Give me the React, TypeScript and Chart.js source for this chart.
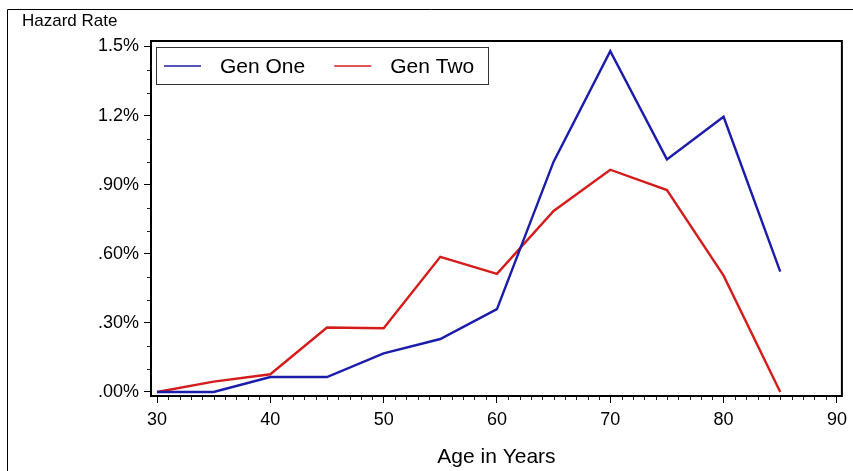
import React, { useEffect, useRef } from "react";
import { Chart, registerables } from "chart.js";

Chart.register(...registerables);

// ---- data ----
const ages = [30, 35, 40, 45, 50, 55, 60, 65, 70, 75, 80, 85];
const genOne = [0.0, 0.0, 0.065, 0.065, 0.168, 0.23, 0.36, 1.0, 1.48, 1.01, 1.195, 0.523];
const genTwo = [0.0, 0.045, 0.077, 0.28, 0.277, 0.587, 0.513, 0.786, 0.965, 0.877, 0.505, 0.0];
const seriesNames = ["Gen One", "Gen Two"];
const seriesColors = ["#1c1caa", "#d41c1c"];

const yMajorTicks = [0, 0.3, 0.6, 0.9, 1.2, 1.5];
const yTickLabels = [".00%", ".30%", ".60%", ".90%", "1.2%", "1.5%"];
const yMinorTicks = [0.1, 0.2, 0.4, 0.5, 0.7, 0.8, 1.0, 1.1, 1.3, 1.4];
const xMajorTicks = [30, 40, 50, 60, 70, 80, 90];
const xMinorTicks = [31, 32, 33, 34, 35, 36, 37, 38, 39, 41, 42, 43, 44, 45, 46, 47, 48, 49, 51, 52, 53, 54, 55, 56, 57, 58, 59, 61, 62, 63, 64, 65, 66, 67, 68, 69, 71, 72, 73, 74, 75, 76, 77, 78, 79, 81, 82, 83, 84, 85, 86, 87, 88, 89];

const yTitle = "Hazard Rate";
const xTitle = "Age in Years";

const FONT = "'Liberation Sans', Arial, Helvetica, sans-serif";

const decorPlugin = {
  id: "decor",
  beforeDraw(chart: any) {
    const { ctx, width, height } = chart;
    ctx.save();
    ctx.fillStyle = "#fff";
    ctx.fillRect(0, 0, width, height);
    ctx.restore();
  },
  afterDraw(chart: any) {
    const { ctx, chartArea: a, scales } = chart;
    const x = scales.x;
    const y = scales.y;
    ctx.save();
    // outer border
    ctx.strokeStyle = "#000";
    ctx.lineWidth = 1;
    ctx.beginPath();
    ctx.moveTo(7.5, chart.height);
    ctx.lineTo(7.5, 9.5);
    ctx.lineTo(chart.width, 9.5);
    ctx.stroke();

    // minor ticks
    ctx.strokeStyle = "#222";
    ctx.lineWidth = 1;
    ctx.beginPath();
    for (const v of yMinorTicks) {
      const py = Math.round(y.getPixelForValue(v)) + 0.5;
      ctx.moveTo(a.left - 4, py);
      ctx.lineTo(a.left, py);
    }
    for (const v of xMinorTicks) {
      const px = Math.round(x.getPixelForValue(v)) + 0.5;
      ctx.moveTo(px, a.bottom);
      ctx.lineTo(px, a.bottom + 4);
    }
    ctx.stroke();

    // frame
    ctx.strokeStyle = "#000";
    ctx.lineWidth = 2;
    ctx.strokeRect(a.left, a.top, a.right - a.left, a.bottom - a.top);

    // y title
    ctx.fillStyle = "#000";
    ctx.font = `17px ${FONT}`;
    ctx.textAlign = "left";
    ctx.textBaseline = "middle";
    ctx.fillText(yTitle, 22, 21);

    // legend
    const bx = a.left + 5;
    const by = a.top + 6;
    const bw = 332;
    const bh = 37;
    ctx.fillStyle = "#fff";
    ctx.fillRect(bx, by, bw, bh);
    ctx.strokeStyle = "#333";
    ctx.lineWidth = 1;
    ctx.strokeRect(bx + 0.5, by + 0.5, bw, bh);
    const cy = by + bh / 2 + 0.5;
    ctx.font = `21px ${FONT}`;
    let cx = bx + 8;
    chart.data.datasets.forEach((ds: any) => {
      ctx.strokeStyle = ds.borderColor;
      ctx.lineWidth = 1.5;
      ctx.beginPath();
      ctx.moveTo(cx, cy);
      ctx.lineTo(cx + 37, cy);
      ctx.stroke();
      cx += 37 + 19;
      ctx.fillStyle = "#000";
      ctx.fillText(ds.label, cx, cy + 1);
      cx += ctx.measureText(ds.label).width + 29;
    });
    ctx.restore();
  },
};

export default function App() {
  const ref = useRef<HTMLCanvasElement | null>(null);
  useEffect(() => {
    if (!ref.current) return;
    const datasets = [genOne, genTwo].map((vals, i) => ({
      label: seriesNames[i],
      data: ages.map((a, j) => ({ x: a, y: vals[j] })),
      borderColor: seriesColors[i],
      backgroundColor: seriesColors[i],
      borderWidth: 2.4,
      pointRadius: 0,
      tension: 0,
      fill: false,
    }));
    const chart = new Chart(ref.current, {
      type: "line",
      data: { datasets },
      plugins: [decorPlugin],
      options: {
        animation: false,
        responsive: false,
        events: [],
        layout: { padding: { top: 41, right: 11, left: 0, bottom: 0 } },
        plugins: { legend: { display: false }, tooltip: { enabled: false } },
        scales: {
          x: {
            type: "linear",
            min: 29.47,
            max: 90.44,
            afterBuildTicks: (s: any) => {
              s.ticks = xMajorTicks.map((v) => ({ value: v }));
            },
            afterFit: (s: any) => {
              s.height = 75;
            },
            ticks: {
              color: "#000",
              font: { family: FONT, size: 18 },
              padding: 6,
              maxRotation: 0,
              autoSkip: false,
              callback: (v: any) => String(v),
            },
            grid: {
              display: true,
              drawOnChartArea: false,
              drawTicks: true,
              tickLength: 7,
              tickColor: "#000",
              color: "#000",
            },
            border: { display: false },
            title: {
              display: true,
              text: xTitle,
              color: "#000",
              font: { family: FONT, size: 21 },
              padding: { top: 0, bottom: 1 },
            },
          },
          y: {
            type: "linear",
            min: -0.0174,
            max: 1.524,
            afterBuildTicks: (s: any) => {
              s.ticks = yMajorTicks.map((v) => ({ value: v }));
            },
            afterFit: (s: any) => {
              s.width = 151;
            },
            ticks: {
              color: "#000",
              font: { family: FONT, size: 18 },
              padding: 5,
              autoSkip: false,
              callback: (v: any) => {
                const idx = yMajorTicks.findIndex((t) => Math.abs(t - v) < 1e-6);
                return idx >= 0 ? yTickLabels[idx] : "";
              },
            },
            grid: {
              display: true,
              drawOnChartArea: false,
              drawTicks: true,
              tickLength: 7,
              tickColor: "#000",
              color: "#000",
            },
            border: { display: false },
          },
        },
      },
    });
    return () => chart.destroy();
  }, []);
  return (
    <div style={{ position: "absolute", left: 0, top: 0, width: 853, height: 471, background: "#fff" }}>
      <canvas ref={ref} width={853} height={471} style={{ width: 853, height: 471, display: "block" }} />
    </div>
  );
}
